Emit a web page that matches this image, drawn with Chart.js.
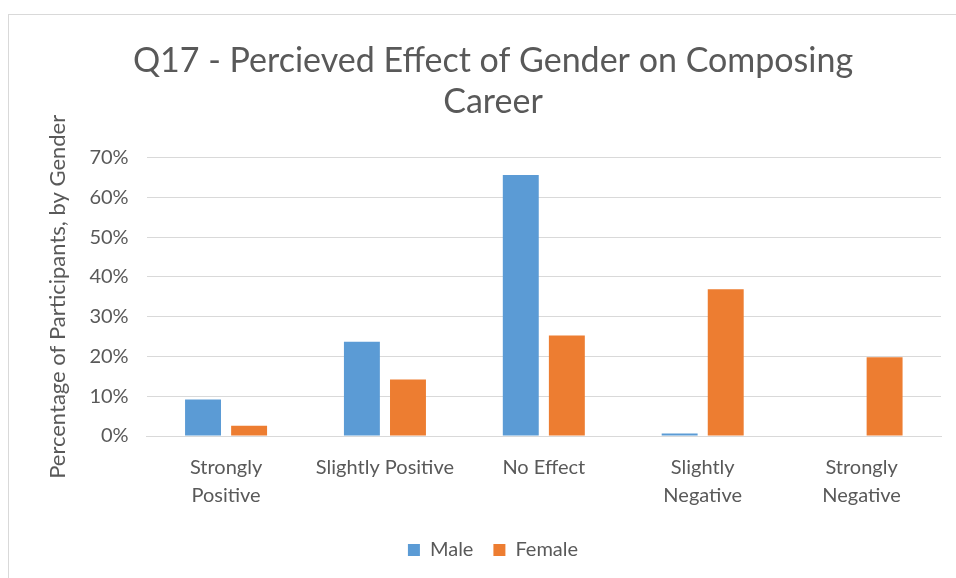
<!DOCTYPE html>
<html>
<head>
<meta charset="utf-8">
<script src="https://cdn.jsdelivr.net/npm/chart.js@4"></script>
<style>
    html, body { margin: 0; padding: 0; background: #fff; overflow: hidden; }
    #wrap { position: absolute; left: 8px; top: 14px; width: 960px; height: 580px; border: 1px solid #d9d9d9; box-sizing: border-box; }
    #box { position: absolute; left: 0; top: 0; width: 948px; height: 564px; }
</style>
</head>
<body>
<div id="wrap"><div id="box"><canvas id="c"></canvas></div></div>
<script>
// Values (fractions of participants)
const categories = [['Strongly', 'Positive'], 'Slightly Positive', 'No Effect', ['Slightly', 'Negative'], ['Strongly', 'Negative']];
const maleValues = [0.092, 0.237, 0.656, 0.006, 0];
const femaleValues = [0.026, 0.142, 0.253, 0.369, 0.198];
const seriesNames = ['Male', 'Female'];

const textColor = '#595959';
const gridColor = '#d9d9d9';
const font = 'Lato, "Open Sans", sans-serif';

new Chart(document.getElementById('c'), {
    type: 'bar',
    data: {
        labels: categories,
        datasets: [
            { label: seriesNames[0], data: maleValues, backgroundColor: '#5b9bd5', barPercentage: 0.78, categoryPercentage: 0.58 },
            { label: seriesNames[1], data: femaleValues, backgroundColor: '#ed7d31', barPercentage: 0.78, categoryPercentage: 0.58 },
        ],
    },
    options: {
        responsive: true,
        maintainAspectRatio: false,
        animation: false,
        layout: { padding: { left: 36, right: 16, top: 26, bottom: 9 } },
        plugins: {
            title: {
                display: true,
                text: ['Q17 - Percieved Effect of Gender on Composing', 'Career'],
                color: textColor,
                font: { family: font, size: 34, weight: 'normal' },
                lineHeight: 1.4,
                padding: { top: 0, bottom: 35 },
            },
            legend: {
                position: 'bottom',
                labels: { boxWidth: 12, boxHeight: 12, color: textColor, font: { family: font, size: 20 }, padding: 20 },
            },
            tooltip: { enabled: false },
        },
        scales: {
            x: {
                grid: { display: false },
                border: { color: gridColor },
                ticks: { color: textColor, font: { family: font, size: 20, lineHeight: 1.4 }, maxRotation: 0, padding: 10 },
            },
            y: {
                min: 0,
                max: 0.7,
                ticks: {
                    stepSize: 0.1,
                    color: textColor,
                    font: { family: font, size: 20 },
                    padding: 18,
                    callback: v => Math.round(v * 100) + '%',
                },
                grid: { color: gridColor, drawTicks: false },
                border: { display: false },
                title: { display: true, text: 'Percentage of Participants, by Gender', color: textColor, font: { family: font, size: 22 }, padding: 0 },
            },
        },
    },
});
</script>
</body>
</html>
